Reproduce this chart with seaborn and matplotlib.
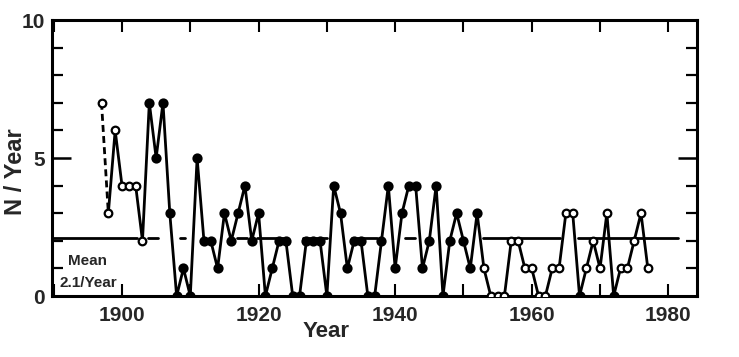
import numpy as np
import pandas as pd
import matplotlib
matplotlib.use("Agg")
import matplotlib.pyplot as plt
import seaborn as sns

# yearly counts
years = list(range(1897, 1978))
counts = [7, 3, 6, 4, 4, 4, 2, 7, 5, 7,
          3, 0, 1, 0, 5, 2, 2, 1, 3, 2,
          3, 4, 2, 3, 0, 1, 2, 2, 0, 0,
          2, 2, 2, 0, 4, 3, 1, 2, 2, 0,
          0, 2, 4, 1, 3, 4, 4, 1, 2, 4,
          0, 2, 3, 2, 1, 3, 1, 0, 0, 0,
          2, 2, 1, 1, 0, 0, 1, 1, 3, 3,
          0, 1, 2, 1, 3, 0, 1, 1, 2, 3, 1]
# years drawn with open circles
open_years = list(range(1897, 1904)) + [y for y in range(1953, 1978) if y not in (1967, 1972)]
mean_rate = 2.1
# visible pieces of the mean line (the rest is hidden behind the data line)
mean_pieces = [(1889.8, 1902.2), (1903.8, 1905.3), (1908.5, 1909.2), (1916.8, 1918.3),
               (1919.8, 1924.2), (1926.5, 1930.0), (1933.7, 1937.3), (1941.4, 1942.9),
               (1952.9, 1964.1), (1966.8, 1981.4)]

df = pd.DataFrame({"Year": years, "N": counts})
df["open"] = df["Year"].isin(open_years)

sns.set_theme(style="ticks")
plt.rcParams["font.family"] = ["Liberation Sans", "DejaVu Sans"]
plt.rcParams["font.weight"] = "bold"

fig = plt.figure(figsize=(7.39, 3.57), dpi=100)
ax = fig.add_axes([52 / 739, 61 / 357, 645 / 739, 276 / 357])

for a, b in mean_pieces:
    sns.lineplot(x=[a, b], y=[mean_rate, mean_rate], color="black", lw=2.0, ax=ax)

sns.lineplot(data=df.iloc[:2], x="Year", y="N", color="black", lw=2.0,
             linestyle=(0, (2.5, 1.5)), ax=ax)
sns.lineplot(data=df.iloc[1:], x="Year", y="N", color="black", lw=2.0, ax=ax)
sns.scatterplot(data=df[~df["open"]], x="Year", y="N", color="black", s=38,
                edgecolor="black", linewidth=1.2, zorder=5, ax=ax)
sns.scatterplot(data=df[df["open"]], x="Year", y="N", facecolor="white", s=30,
                edgecolor="black", linewidth=1.6, zorder=5, ax=ax)

ax.set_xlim(1889.75, 1984.2)
ax.set_ylim(0, 10)
ax.set_xticks([1900, 1920, 1940, 1960, 1980])
ax.set_xticks(np.arange(1890, 1985, 10), minor=True)
ax.set_yticks([0, 5, 10])
ax.set_yticks(np.arange(0, 11, 1), minor=True)
ax.tick_params(axis="x", which="both", direction="in", top=True, bottom=True,
               length=8.5, width=1.5, color="black")
ax.tick_params(axis="y", which="major", direction="in", left=True, right=True,
               length=14, width=1.8, color="black")
ax.tick_params(axis="y", which="minor", direction="in", left=True, right=True,
               length=8, width=1.6, color="black")
ax.tick_params(axis="x", which="major", labelsize=15, pad=7)
ax.tick_params(axis="y", which="major", labelsize=15, pad=5)
for s in ax.spines.values():
    s.set_linewidth(2.2)
    s.set_color("black")

ax.set_xlabel("Year", fontsize=16, fontweight="bold")
ax.xaxis.set_label_coords(0.425, -0.09)
ax.set_ylabel("N / Year", fontsize=17, fontweight="bold")
ax.yaxis.set_label_coords(-0.038, 0.45)

ax.text(1895.0, 1.27, "Mean", fontsize=11, fontweight="bold", ha="center", va="center")
ax.text(1895.0, 0.47, "2.1/Year", fontsize=11, fontweight="bold", ha="center", va="center")

fig.savefig("out.png", dpi=100, facecolor="white")
